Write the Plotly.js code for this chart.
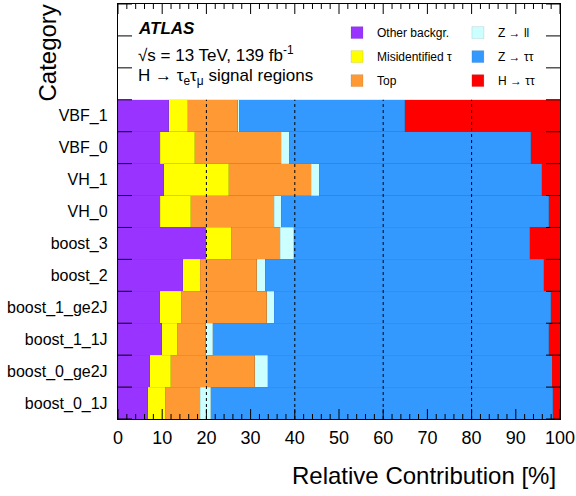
<!DOCTYPE html>
<html>
<head>
<meta charset="utf-8">
<script src="https://cdn.plot.ly/plotly-3.0.1.min.js"></script>
<style>html,body{margin:0;padding:0;background:#fff;}#chart{width:576px;height:496px;}</style>
</head>
<body>
<div id="chart"></div>
<script>
// Categories, top to bottom as drawn
const categories = ["VBF_1", "VBF_0", "VH_1", "VH_0", "boost_3", "boost_2",
  "boost_1_ge2J", "boost_1_1J", "boost_0_ge2J", "boost_0_1J"];

// Relative contributions [%] per category (same order as categories)
const otherBackgr = [11.5, 9.6, 10.4, 9.6, 20.0, 14.7, 9.4, 9.9, 7.2, 6.7];
const misidTau    = [4.3, 7.8, 14.6, 6.9, 5.6, 3.9, 4.9, 3.5, 4.7, 4.0];
const topQuark    = [11.3, 19.5, 18.7, 18.9, 11.1, 12.8, 19.3, 6.5, 19.0, 7.9];
const zll         = [0.3, 1.8, 1.8, 1.5, 3.1, 1.9, 1.7, 1.5, 3.0, 2.4];
const ztautau     = [37.5, 54.7, 50.4, 60.5, 53.3, 63.0, 62.6, 76.1, 64.4, 77.4];
const htautau     = [35.1, 6.6, 4.1, 2.6, 6.9, 3.7, 2.1, 2.5, 1.7, 1.6];

// axis tick values
const xMajorTicks = [0, 10, 20, 30, 40, 50, 60, 70, 80, 90, 100];
const xMinorStep = 2;
const refLines = [20, 40, 60, 80];
const emptySlots = 3; // unlabelled rows above the bars (space for the texts and legend)

const W = 576, H = 496;
const M = {l: 118, r: 16, t: 4, b: 77};
const plotW = W - M.l - M.r, plotH = H - M.t - M.b;

const nCat = categories.length;
const nRows = nCat + emptySlots;
const categoryOrder = categories.slice().reverse();
const yRange = [-0.5, nRows - 0.5];
const xMinorTicks = [];
for (let v = 0; v <= 100; v += xMinorStep) if (v % 10 !== 0) xMinorTicks.push(v);
const yEdges = [];
for (let k = 0; k <= nRows; k++) yEdges.push(k - 0.5);

const FONT = "Liberation Sans, Arial, Helvetica, sans-serif";
const edge = {color: "rgba(70,70,70,0.25)", width: 0.5};

function series(name, vals, color, legend) {
  return {
    type: "bar", orientation: "h", name: name, x: vals, y: categories,
    marker: {color: color, line: edge}, legend: legend, legendgroup: name,
    hoverinfo: "x+name"
  };
}

const data = [
  series("Other backgr.", otherBackgr, "#9933ff", "legend"),
  series("Misidentified τ", misidTau, "#ffff00", "legend"),
  series("Top", topQuark, "#ff9933", "legend"),
  series("Z → ll", zll, "#ccffff", "legend2"),
  series("Z → ττ", ztautau, "#3399ff", "legend2"),
  series("H → ττ", htautau, "#ff0000", "legend2")
];

// dashed reference lines over the bars
const shapes = refLines.map(v => ({
  type: "line", xref: "x", yref: "y", x0: v, x1: v, y0: -0.5, y1: nCat - 0.5,
  line: {color: "#000", width: 1, dash: "3px,3px"}, layer: "above"
}));

// ROOT-style inside ticks on all four sides, drawn above the bars
const tickLine = {color: "#000", width: 1};
function xTick(v, lenPx, side) {
  const f = lenPx / plotH;
  return {type: "line", layer: "above", xref: "x", x0: v, x1: v,
          yref: "paper", y0: side, y1: side === 0 ? f : 1 - f, line: tickLine};
}
function yTick(v, lenPx, side) {
  const f = lenPx / plotW;
  return {type: "line", layer: "above", yref: "y", y0: v, y1: v,
          xref: "paper", x0: side, x1: side === 0 ? f : 1 - f, line: tickLine};
}
xMajorTicks.forEach(v => { shapes.push(xTick(v, 10, 0)); shapes.push(xTick(v, 10, 1)); });
xMinorTicks.forEach(v => { shapes.push(xTick(v, 5, 0)); shapes.push(xTick(v, 5, 1)); });
yEdges.forEach(v => { shapes.push(yTick(v, 14, 0)); shapes.push(yTick(v, 14, 1)); });

const legendCommon = {
  font: {family: FONT, size: 12, color: "#000"}, bgcolor: "rgba(0,0,0,0)",
  traceorder: "grouped", tracegroupgap: 5, xanchor: "left", yanchor: "top",
  orientation: "v", borderwidth: 0
};

const layout = {
  width: W, height: H,
  margin: M,
  paper_bgcolor: "#fff", plot_bgcolor: "#fff",
  font: {family: FONT, color: "#000"},
  barmode: "stack", bargap: 0,
  showlegend: true,
  legend: Object.assign({x: 0.4955, y: 0.966}, legendCommon),
  legend2: Object.assign({x: 0.769, y: 0.966}, legendCommon),
  xaxis: {
    range: [0, 100], tickmode: "array", tickvals: xMajorTicks, ticks: "",
    showline: true, linecolor: "#000", linewidth: 1.2, mirror: true,
    showgrid: false, zeroline: false, tickfont: {family: FONT, size: 18, color: "#000"},
    ticklabelstandoff: 2, fixedrange: true
  },
  yaxis: {
    type: "category", categoryorder: "array", categoryarray: categoryOrder,
    range: yRange, ticks: "", ticklabelstandoff: 6,
    tickfont: {family: FONT, size: 16, color: "#000"},
    showline: true, linecolor: "#000", linewidth: 1.2,
    mirror: true, showgrid: false, zeroline: false, fixedrange: true
  },
  shapes: shapes,
  annotations: [
    {xref: "paper", yref: "paper", x: 0.041, y: 0.9398, xanchor: "left", yanchor: "middle",
     text: "<b><i>ATLAS</i></b>", showarrow: false, font: {family: FONT, size: 17, color: "#000"}},
    {xref: "paper", yref: "paper", x: 0.041, y: 0.8795, xanchor: "left", yanchor: "middle",
     text: "√s = 13 TeV, 139 fb<sup>-1</sup>", showarrow: false, font: {family: FONT, size: 17, color: "#000"}},
    {xref: "paper", yref: "paper", x: 0.041, y: 0.8234, xanchor: "left", yanchor: "middle",
     text: "H → τ<sub>e</sub>τ<sub>μ</sub> signal regions", showarrow: false, font: {family: FONT, size: 17, color: "#000"}},
    {xref: "paper", yref: "paper", x: 0.9955, y: -0.135, xanchor: "right", yanchor: "middle",
     text: "Relative Contribution [%]", showarrow: false, font: {family: FONT, size: 24, color: "#000"}},
    {xref: "paper", yref: "paper", x: -0.1606, y: 1.0024, xanchor: "center", yanchor: "top",
     textangle: -90, text: "Category", showarrow: false, font: {family: FONT, size: 24, color: "#000"}}
  ]
};

Plotly.newPlot("chart", data, layout, {displayModeBar: false, staticPlot: true});
</script>
</body>
</html>
